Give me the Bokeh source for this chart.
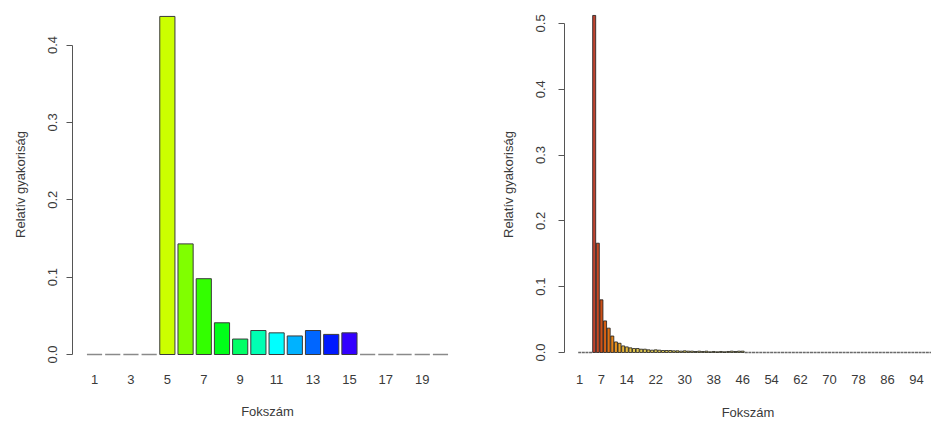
import colorsys
from bokeh.plotting import figure
from bokeh.layouts import row
from bokeh.models import ColumnDataSource, FixedTicker, Range1d
from bokeh.embed import file_html
from bokeh.resources import INLINE

# ---------------- data ----------------
left_categories = list(range(1, 21))
left_values = [0, 0, 0, 0, 0.437, 0.143, 0.098, 0.041, 0.020, 0.031,
               0.028, 0.024, 0.031, 0.026, 0.028, 0, 0, 0, 0, 0]
left_ticks = [1, 3, 5, 7, 9, 11, 13, 15, 17, 19]
left_tick_labels = ["1", "3", "5", "7", "9", "11", "13", "15", "17", "19"]

right_categories = list(range(1, 101))
right_values = [0, 0, 0, 0, 0.512, 0.166, 0.080, 0.048, 0.037, 0.025,
                0.016, 0.014, 0.010, 0.0085, 0.007, 0.006, 0.006, 0.005, 0.005, 0.004,
                0.0035, 0.004, 0.0035, 0.003, 0.003, 0.003, 0.0025, 0.0025, 0.002, 0.0025,
                0.002, 0.002, 0.0015, 0.002, 0.0015, 0.002, 0.001, 0.0015, 0.001, 0.0015,
                0.001, 0.0015, 0.002, 0.0015, 0.002, 0.002] + [0] * 54
right_ticks = [1, 7, 14, 22, 30, 38, 46, 54, 62, 70, 78, 86, 94]
right_tick_labels = ["1", "7", "14", "22", "30", "38", "46", "54", "62", "70", "78", "86", "94"]

x_label = "Fokszám"
y_label = "Relatív gyakoriság"

# ---------------- styles ----------------
FONT = "Liberation Sans"
TXT = "#3a3a3a"
AX = "#555555"
BAR_W = 1 / 1.2


def rainbow(n):
    out = []
    for i in range(n):
        r, g, b = colorsys.hsv_to_rgb(i / n, 1, 1)
        out.append("#%02x%02x%02x" % (round(r * 255), round(g * 255), round(b * 255)))
    return out


def lerp_hex(c1, c2, t):
    a = [int(c1[i:i + 2], 16) for i in (1, 3, 5)]
    b = [int(c2[i:i + 2], 16) for i in (1, 3, 5)]
    return "#%02x%02x%02x" % tuple(round(a[k] + (b[k] - a[k]) * t) for k in range(3))


def heat_like(cat):
    anchors = [(5, "#bf4430"), (7, "#cc5018"), (9, "#e07212"), (11, "#e89420"),
               (13, "#e8b436"), (16, "#e2c850"), (46, "#d8d070")]
    if cat <= anchors[0][0]:
        return anchors[0][1]
    for (c0, h0), (c1, h1) in zip(anchors, anchors[1:]):
        if cat <= c1:
            return lerp_hex(h0, h1, (cat - c0) / (c1 - c0))
    return anchors[-1][1]


def style(p, yticks, ybounds, xticks, xlabels, xstand, xlabstand, ystand, ylabstand):
    p.xgrid.visible = False
    p.ygrid.visible = False
    p.outline_line_color = None
    p.background_fill_color = "white"
    p.border_fill_color = "white"
    for ax in (p.xaxis[0], p.yaxis[0]):
        ax.axis_label_text_font = FONT
        ax.axis_label_text_font_size = "13px"
        ax.axis_label_text_font_style = "normal"
        ax.axis_label_text_color = TXT
        ax.major_label_text_font = FONT
        ax.major_label_text_font_size = "13px"
        ax.major_label_text_color = TXT
        ax.minor_tick_line_color = None
    xa = p.xaxis[0]
    xa.ticker = FixedTicker(ticks=xticks)
    xa.major_label_overrides = {t: l for t, l in zip(xticks, xlabels)}
    xa.axis_line_color = None
    xa.major_tick_line_color = None
    xa.major_tick_out = 0
    xa.major_tick_in = 0
    xa.major_label_standoff = xstand
    xa.axis_label_standoff = xlabstand
    ya = p.yaxis[0]
    ya.ticker = FixedTicker(ticks=yticks)
    ya.bounds = ybounds
    ya.axis_line_color = AX
    ya.major_tick_line_color = AX
    ya.major_tick_out = 6
    ya.major_tick_in = 0
    ya.major_label_orientation = "vertical"
    ya.major_label_standoff = ystand
    ya.axis_label_standoff = ylabstand
    ya.major_label_overrides = {t: "%.1f" % t for t in yticks}


# ---------------- left chart ----------------
lsrc = ColumnDataSource(dict(
    x=[c for c, v in zip(left_categories, left_values) if v > 0],
    top=[v for v in left_values if v > 0],
    color=[col for col, v in zip(rainbow(len(left_categories)), left_values) if v > 0],
))
lzero = ColumnDataSource(dict(
    x0=[c - BAR_W / 2 for c, v in zip(left_categories, left_values) if v == 0],
    x1=[c + BAR_W / 2 for c, v in zip(left_categories, left_values) if v == 0],
    y=[0.0 for v in left_values if v == 0],
))

p1 = figure(width=470, height=422, output_backend="svg", toolbar_location=None,
            x_range=Range1d(-0.21, 21.21), y_range=Range1d(-0.0155, 0.455),
            min_border_left=72, min_border_right=8, min_border_top=2, min_border_bottom=20,
            x_axis_label=x_label, y_axis_label=y_label)
p1.vbar(x="x", top="top", bottom=0, width=BAR_W, source=lsrc,
        fill_color="color", line_color="#3a3a3a", line_width=1)
p1.segment(x0="x0", x1="x1", y0="y", y1="y", source=lzero, line_color="#8a8a8a", line_width=1.5)
style(p1, [0, 0.1, 0.2, 0.3, 0.4], (0, 0.4), left_ticks, left_tick_labels, 8, 17, 9, 18)

# ---------------- right chart ----------------
rsrc = ColumnDataSource(dict(
    x=[c for c, v in zip(right_categories, right_values) if v > 0],
    top=[v for v in right_values if v > 0],
    color=[heat_like(c) for c, v in zip(right_categories, right_values) if v > 0],
))
rzero = ColumnDataSource(dict(
    x0=[c - BAR_W / 2 for c, v in zip(right_categories, right_values) if v == 0],
    x1=[c + BAR_W / 2 for c, v in zip(right_categories, right_values) if v == 0],
    y=[0.0 for v in right_values if v == 0],
))

p2 = figure(width=461, height=422, output_backend="svg", toolbar_location=None,
            x_range=Range1d(-3.2, 98.15), y_range=Range1d(-0.0213, 0.5317),
            min_border_left=94, min_border_right=0, min_border_top=0, min_border_bottom=20,
            x_axis_label=x_label, y_axis_label=y_label)
p2.segment(x0="x0", x1="x1", y0="y", y1="y", source=rzero, line_color="#6a6a6a", line_width=1.5)
p2.vbar(x="x", top="top", bottom=0, width=BAR_W, source=rsrc,
        fill_color="color", line_color="#1a1a1a", line_width=0.8)
style(p2, [0, 0.1, 0.2, 0.3, 0.4, 0.5], (0, 0.5), right_ticks, right_tick_labels, 8, 18, 13, 18)

layout = row(p1, p2)
open("out.html", "w").write(file_html(layout, INLINE))
